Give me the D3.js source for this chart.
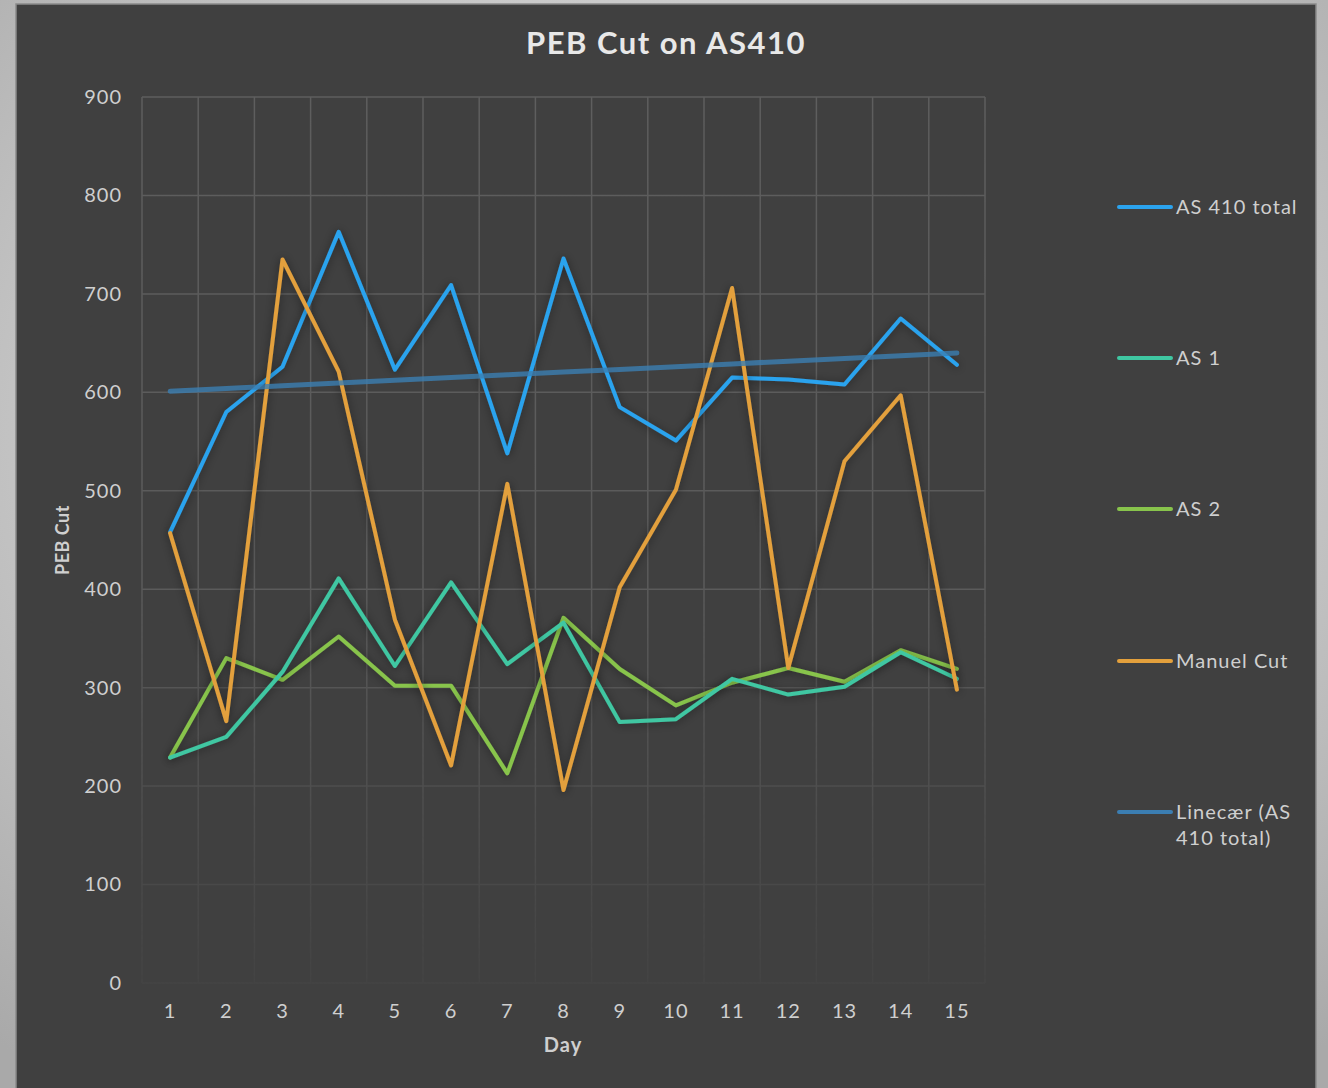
<!DOCTYPE html>
<html lang="en">
<head>
    <meta charset="UTF-8">
    <title>PEB Cut on AS410</title>
    <script src="https://cdn.jsdelivr.net/npm/d3@7"></script>
    <style>
        body { margin: 0; background: #d9d9d9; }
        svg { display: block; }
    </style>
</head>
<body>

<div id="container"></div>

<script>
    // Data
    var days = [1, 2, 3, 4, 5, 6, 7, 8, 9, 10, 11, 12, 13, 14, 15];
    var as410Total = [458, 580, 626, 763, 623, 709, 538, 736, 585, 551, 615, 613, 608, 675, 628];
    var as1 = [229, 250, 316, 411, 322, 407, 324, 366, 265, 268, 309, 293, 301, 336, 309];
    var as2 = [229, 330, 308, 352, 302, 302, 213, 371, 319, 282, 305, 320, 306, 338, 319];
    var manuelCut = [457, 266, 735, 621, 369, 221, 507, 196, 402, 501, 706, 320, 530, 597, 298];
    var yTicks = [0, 100, 200, 300, 400, 500, 600, 700, 800, 900];

    var seriesNames = ["AS 410 total", "AS 1", "AS 2", "Manuel Cut", "Linecær (AS 410 total)"];
    var colors = ["#2ba3ee", "#3fc7a2", "#88c44c", "#e3a03c", "#3b7eb2"];

    var W = 1328, H = 1088;
    var plot = { left: 142, right: 985, top: 97, bottom: 983 };
    var font = "Lato, 'Open Sans', sans-serif";

    var svg = d3.select("#container").append("svg")
        .attr("width", W)
        .attr("height", H);

    var defs = svg.append("defs");

    // outer background
    var bg = defs.append("radialGradient").attr("id", "bgGrad")
        .attr("cx", "50%").attr("cy", "40%").attr("r", "75%");
    bg.append("stop").attr("offset", "0%").attr("stop-color", "#f2f2f2");
    bg.append("stop").attr("offset", "100%").attr("stop-color", "#a9a9a9");

    // grid fades toward the bottom
    var fade = defs.append("linearGradient").attr("id", "fadeGrad")
        .attr("gradientUnits", "userSpaceOnUse")
        .attr("x1", 0).attr("y1", plot.top).attr("x2", 0).attr("y2", plot.bottom);
    fade.append("stop").attr("offset", "0%").attr("stop-color", "#fff").attr("stop-opacity", 1);
    fade.append("stop").attr("offset", "55%").attr("stop-color", "#fff").attr("stop-opacity", 0.9);
    fade.append("stop").attr("offset", "100%").attr("stop-color", "#fff").attr("stop-opacity", 0.12);
    defs.append("mask").attr("id", "gridMask")
        .attr("maskUnits", "userSpaceOnUse")
        .attr("x", 0).attr("y", 0).attr("width", W).attr("height", H)
        .append("rect").attr("x", 0).attr("y", 0).attr("width", W).attr("height", H)
        .attr("fill", "url(#fadeGrad)");

    var shadow = defs.append("filter").attr("id", "shadow")
        .attr("x", "-10%").attr("y", "-10%").attr("width", "120%").attr("height", "120%");
    shadow.append("feDropShadow").attr("dx", 0).attr("dy", 1)
        .attr("stdDeviation", 5).attr("flood-color", "#000").attr("flood-opacity", 0.45);

    svg.append("rect").attr("width", W).attr("height", H).attr("fill", "url(#bgGrad)");

    // chart panel
    svg.append("rect")
        .attr("x", 16).attr("y", 4).attr("width", 1300).attr("height", H)
        .attr("fill", "#404040")
        .attr("stroke", "#8a8a8a").attr("stroke-width", 1.5);

    // Scales
    var x = d3.scaleBand().domain(days).range([plot.left, plot.right]);
    var xc = d => x(d) + x.bandwidth() / 2;
    var y = d3.scaleLinear().domain([0, 900]).range([plot.bottom, plot.top]);

    // Grid
    var grid = svg.append("g").attr("mask", "url(#gridMask)");
    grid.selectAll(".hgrid")
        .data(yTicks)
        .enter().append("line")
        .attr("x1", plot.left).attr("x2", plot.right)
        .attr("y1", d => y(d)).attr("y2", d => y(d))
        .attr("stroke", "#5e5e5e").attr("stroke-width", 1.5);

    var edges = days.map(d => x(d)).concat([plot.right]);
    grid.selectAll(".vgrid")
        .data(edges)
        .enter().append("line")
        .attr("x1", d => d).attr("x2", d => d)
        .attr("y1", plot.top).attr("y2", plot.bottom)
        .attr("stroke", "#5e5e5e").attr("stroke-width", 1.5);

    // Axes
    var yAxis = d3.axisLeft(y).tickValues(yTicks).tickSize(0).tickPadding(20);
    var gy = svg.append("g")
        .attr("transform", "translate(" + plot.left + ",0)")
        .call(yAxis);
    gy.select(".domain").remove();
    gy.selectAll("text")
        .attr("fill", "#cfcfcf")
        .style("font-family", font)
        .style("font-size", "20px")
        .style("letter-spacing", "1px");

    var xAxis = d3.axisBottom(x).tickSize(0).tickPadding(21);
    var gx = svg.append("g")
        .attr("transform", "translate(0," + plot.bottom + ")")
        .call(xAxis);
    gx.select(".domain").remove();
    gx.selectAll("text")
        .attr("fill", "#cfcfcf")
        .style("font-family", font)
        .style("font-size", "20px")
        .style("letter-spacing", "1px");

    // Titles
    svg.append("text")
        .attr("x", 666).attr("y", 54)
        .attr("text-anchor", "middle")
        .attr("fill", "#e8e8e8")
        .style("font-family", font)
        .style("font-size", "31px")
        .style("font-weight", "bold")
        .style("letter-spacing", "1.5px")
        .text("PEB Cut on AS410");

    svg.append("text")
        .attr("x", 563).attr("y", 1052)
        .attr("text-anchor", "middle")
        .attr("fill", "#cfcfcf")
        .style("font-family", font)
        .style("font-size", "20px")
        .style("font-weight", "bold")
        .style("letter-spacing", "1px")
        .text("Day");

    svg.append("text")
        .attr("transform", "translate(69,540) rotate(-90)")
        .attr("text-anchor", "middle")
        .attr("fill", "#cfcfcf")
        .style("font-family", font)
        .style("font-size", "18px")
        .style("font-weight", "bold")
        .style("letter-spacing", "0.5px")
        .text("PEB Cut");

    // Linear trend of AS 410 total
    var mx = d3.mean(days), my = d3.mean(as410Total);
    var slope = d3.sum(days, (d, i) => (d - mx) * (as410Total[i] - my)) / d3.sum(days, d => (d - mx) * (d - mx));
    var trend = days.map(d => my + slope * (d - mx));

    var line = d3.line()
        .x((v, i) => xc(days[i]))
        .y(v => y(v));

    var lines = svg.append("g").attr("fill", "none").attr("stroke-linejoin", "round").attr("stroke-linecap", "round");
    var series = [
        { vals: as410Total, color: colors[0] },
        { vals: as1, color: colors[1] },
        { vals: as2, color: colors[2] },
        { vals: manuelCut, color: colors[3] }
    ];
    // draw AS 2 under AS 1 like the reference; orange on top
    [series[2], series[1], series[0], series[3]].forEach(function (s) {
        lines.append("path")
            .attr("d", line(s.vals))
            .attr("stroke", s.color)
            .attr("stroke-width", 4)
            .attr("filter", "url(#shadow)");
    });
    lines.append("path")
        .attr("d", line(trend))
        .attr("stroke", colors[4])
        .attr("stroke-width", 5)
        .attr("stroke-opacity", 0.8);

    // Legend
    var legendY = [207, 358, 509, 661, 812];
    var legend = svg.append("g");
    seriesNames.forEach(function (name, i) {
        legend.append("line")
            .attr("x1", 1119).attr("x2", 1171)
            .attr("y1", legendY[i]).attr("y2", legendY[i])
            .attr("stroke", colors[i])
            .attr("stroke-width", 4)
            .attr("stroke-linecap", "round");
        var t = legend.append("text")
            .attr("x", 1176).attr("y", legendY[i] + 7)
            .attr("fill", "#cfcfcf")
            .style("font-family", font)
            .style("font-size", "20px")
            .style("letter-spacing", "1px");
        if (i === 4) {
            t.append("tspan").attr("x", 1176).text("Linecær (AS");
            t.append("tspan").attr("x", 1176).attr("dy", 26).text("410 total)");
        } else {
            t.text(name);
        }
    });
</script>

</body>
</html>
